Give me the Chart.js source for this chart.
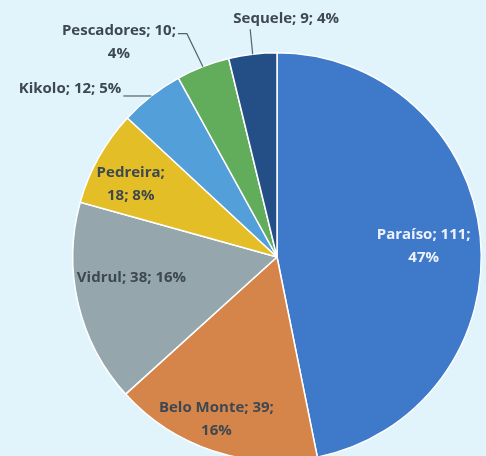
<!DOCTYPE html>
<html>
<head>
<meta charset="utf-8">
<script src="https://cdn.jsdelivr.net/npm/chart.js@4.4.1/dist/chart.umd.min.js"></script>
<style>
  html, body { margin: 0; padding: 0; background: #e1f3fb; overflow: hidden; }
  #wrap { width: 486px; height: 456px; overflow: hidden; }
</style>
</head>
<body>
<div id="wrap"><canvas id="pie" width="486" height="520"></canvas></div>
<script>
// Data
const categories = ["Paraíso", "Belo Monte", "Vidrul", "Pedreira", "Kikolo", "Pescadores", "Sequele"];
const counts = [111, 39, 38, 18, 12, 10, 9];
const percents = ["47%", "16%", "16%", "8%", "5%", "4%", "4%"];

const sliceColors = ["#3f79c9", "#d5854a", "#95a6ad", "#e3be26", "#539fd9", "#62ad5b", "#244f86"];

// how many parts go on the first text line
const firstLineParts = [2, 2, 3, 1, 3, 2, 3];

// label placement (styling only)
const labelPlace = [
  { r: 0.72, da: 1.4, color: "#eef3fb" },
  { r: 0.85, da: 2.2 },
  { r: 0.72, da: 5.1 },
  { r: 0.80, da: -2.8 },
  { leader: [[-28, 0]], tx: -2, ty: -7, align: "right" },
  { leader: [[-16, -33], [-9, 0]], tx: -2, ty: -3, align: "right" },
  { leader: [[-2.5, -25]], tx: 36, ty: -10, align: "center" }
];

const FONT = "bold 15px 'Open Sans'";
const LINE_H = 23;
const TEXT_COLOR = "#3e4850";

function labelLines(i) {
  const parts = [categories[i], String(counts[i]), percents[i]];
  const n = firstLineParts[i];
  const a = parts.slice(0, n).join("; ") + (n < 3 ? ";" : "");
  const b = parts.slice(n).join("; ");
  return b ? [a, b] : [a];
}

const labelPlugin = {
  id: "sliceLabels",
  afterDatasetsDraw(chart) {
    const c = chart.ctx;
    const meta = chart.getDatasetMeta(0);
    c.save();
    c.font = FONT;
    c.textBaseline = "middle";
    meta.data.forEach((arc, i) => {
      const p = arc.getProps(["x", "y", "startAngle", "endAngle", "outerRadius"], true);
      const place = labelPlace[i];
      const lines = labelLines(i);
      const mid = (p.startAngle + p.endAngle) / 2 + (place.da || 0) * Math.PI / 180;
      if (!place.leader) {
        const cx = p.x + Math.cos(mid) * p.outerRadius * place.r;
        const cy = p.y + Math.sin(mid) * p.outerRadius * place.r;
        c.fillStyle = place.color || TEXT_COLOR;
        c.textAlign = "center";
        const y0 = cy - (lines.length - 1) * LINE_H / 2;
        lines.forEach((t, k) => c.fillText(t, cx, y0 + k * LINE_H));
        return;
      }
      // leader line from the slice edge
      let lx = p.x + Math.cos(mid) * p.outerRadius;
      let ly = p.y + Math.sin(mid) * p.outerRadius;
      c.strokeStyle = "#55606a";
      c.lineWidth = 1.2;
      c.beginPath();
      c.moveTo(lx, ly);
      place.leader.forEach(([dx, dy]) => {
        lx += dx; ly += dy;
        c.lineTo(lx, ly);
      });
      c.stroke();
      const w = Math.max(...lines.map(t => c.measureText(t).width));
      const ax = lx + place.tx;
      const ay = ly + place.ty;
      const cx = place.align === "right" ? ax - w / 2 : ax;
      c.fillStyle = TEXT_COLOR;
      c.textAlign = "center";
      lines.forEach((t, k) => c.fillText(t, cx, ay + k * LINE_H));
    });
    c.restore();
  }
};

new Chart(document.getElementById("pie"), {
  type: "pie",
  data: {
    labels: categories,
    datasets: [{
      data: counts,
      backgroundColor: sliceColors,
      borderColor: "#ffffff",
      borderWidth: 1.5,
      hoverOffset: 0
    }]
  },
  options: {
    responsive: false,
    animation: false,
    layout: { padding: { left: 72, right: 4, top: 52, bottom: 58 } },
    plugins: {
      legend: { display: false },
      tooltip: { enabled: false }
    }
  },
  plugins: [labelPlugin]
});
</script>
</body>
</html>
